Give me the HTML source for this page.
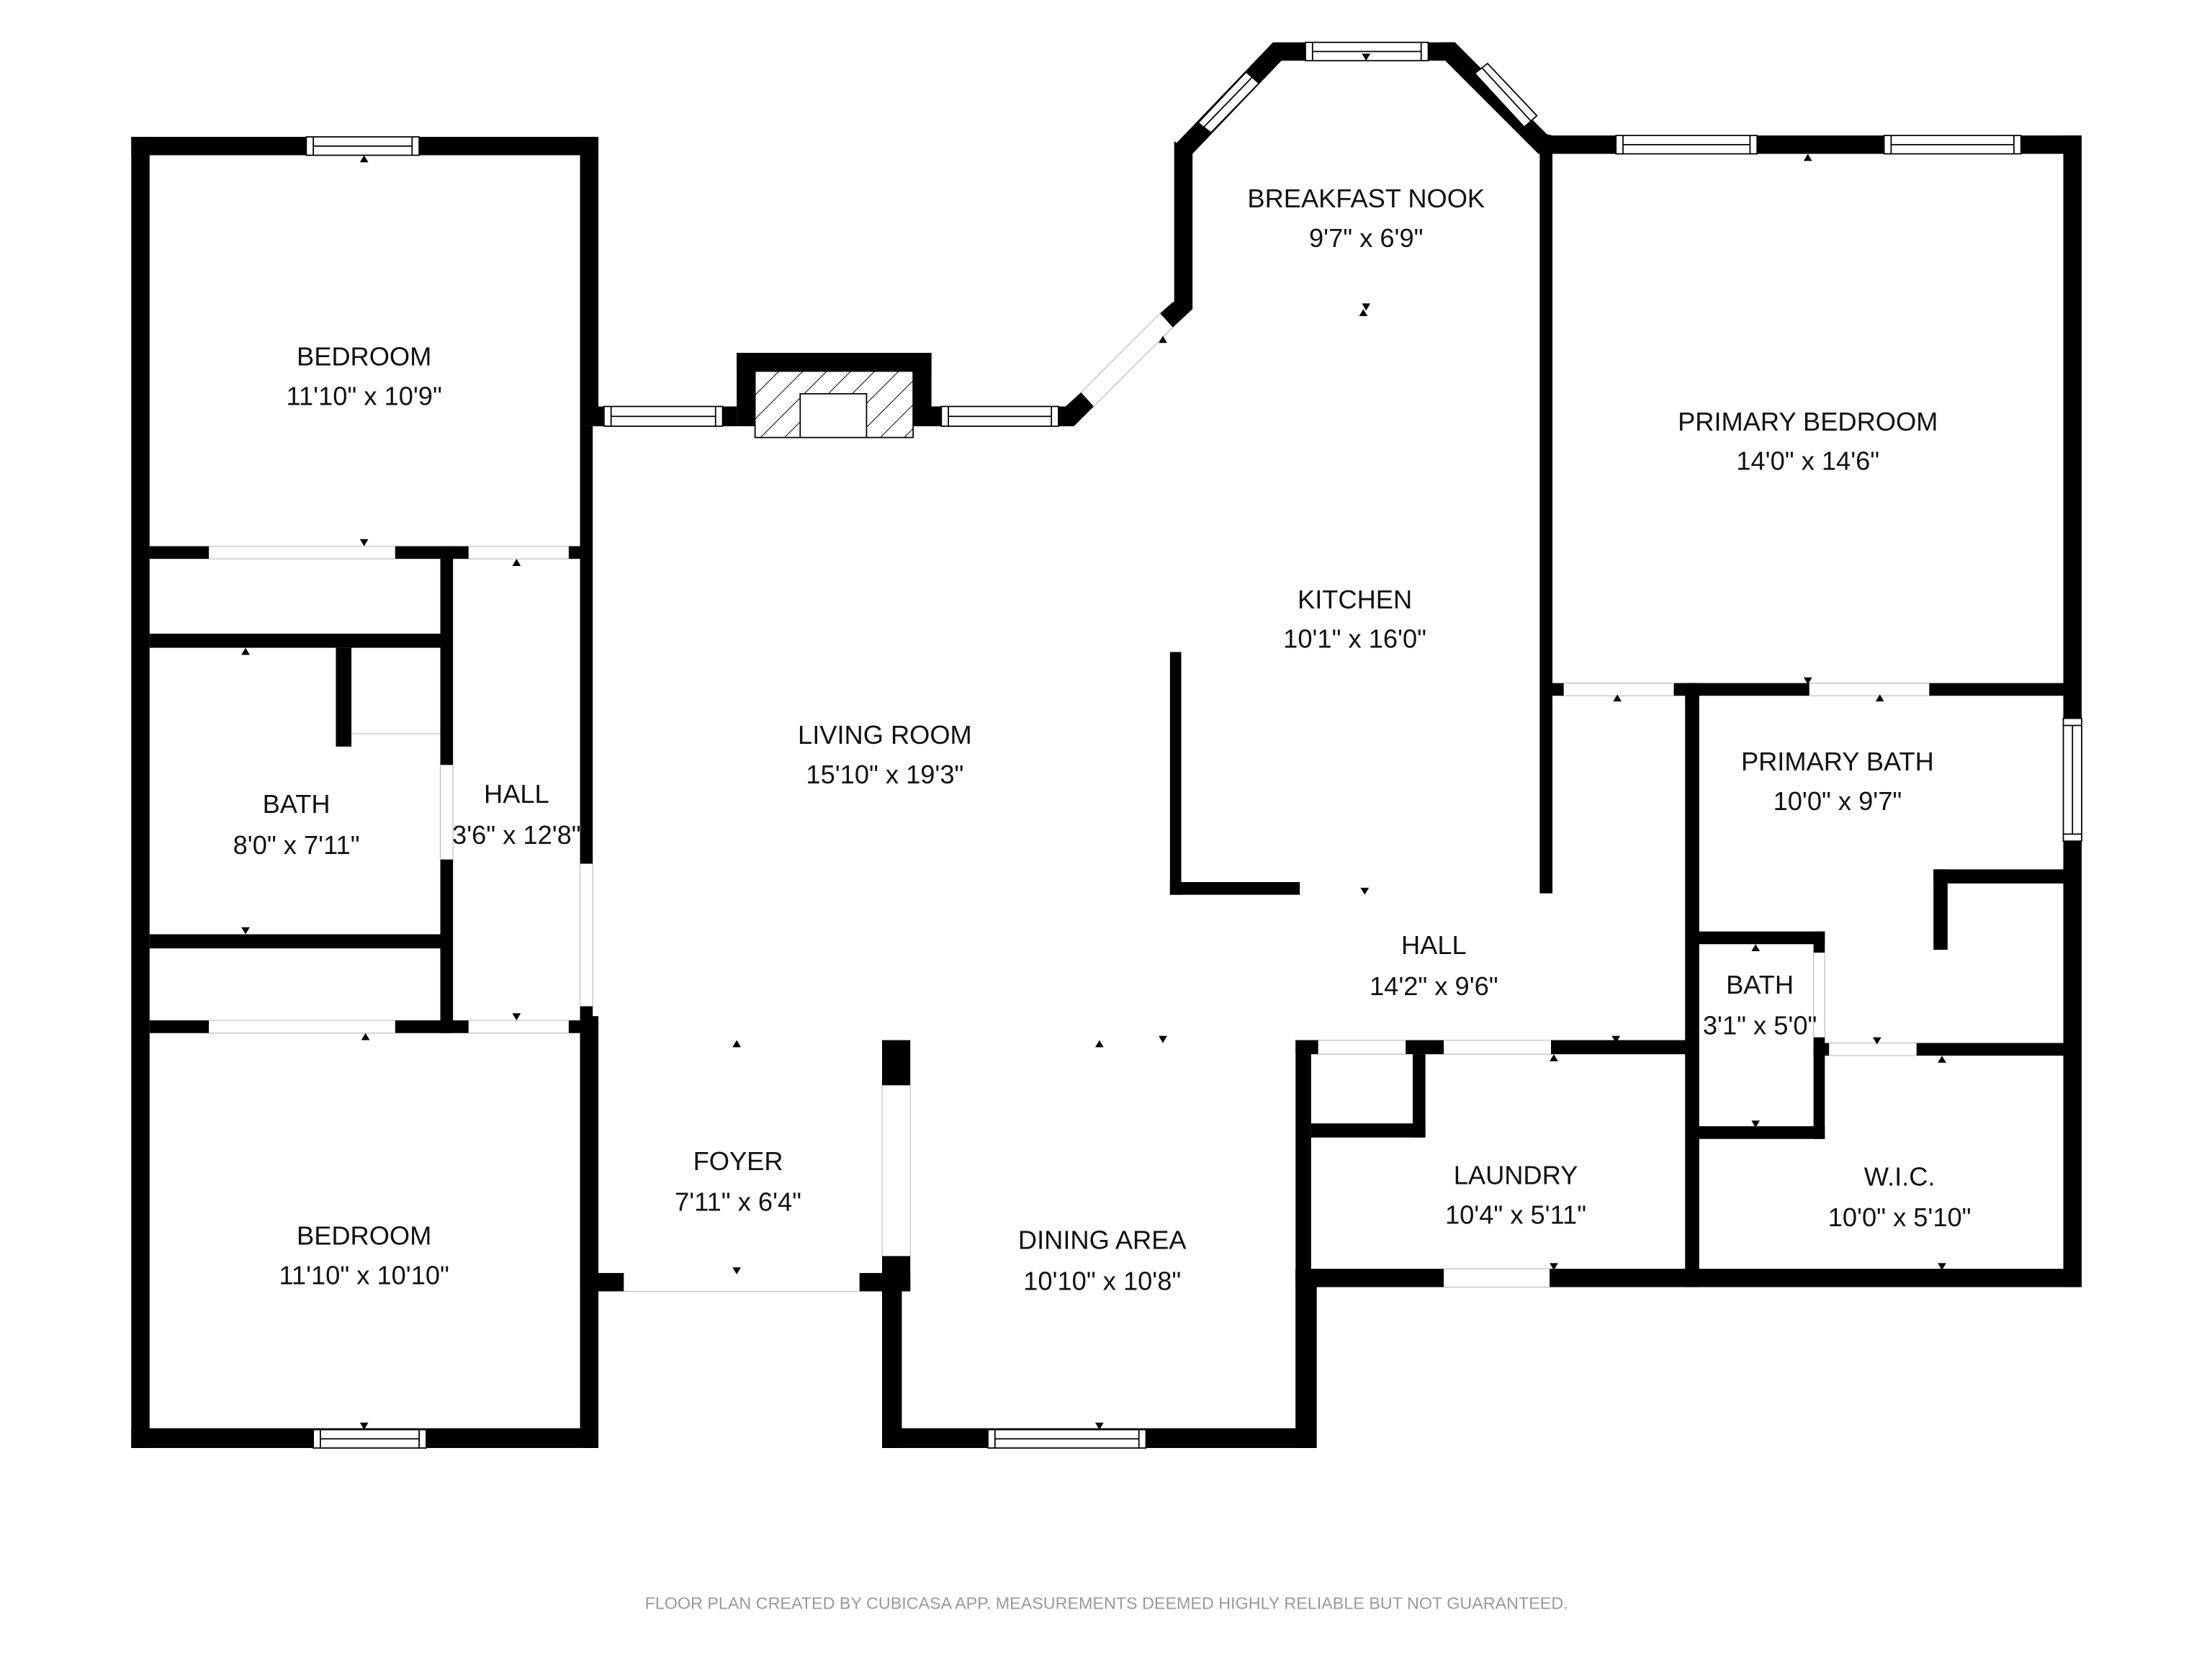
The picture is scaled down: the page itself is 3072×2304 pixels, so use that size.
<!DOCTYPE html>
<html><head><meta charset="utf-8"><style>
html,body{margin:0;padding:0;background:#fff;}
svg{display:block;}
text{font-family:"Liberation Sans",sans-serif;fill:#111;}
</style></head><body>
<svg width="3072" height="2304" viewBox="0 0 1567.35 1175.5" preserveAspectRatio="none" xmlns="http://www.w3.org/2000/svg">
<defs>
<pattern id="hatch" patternUnits="userSpaceOnUse" width="12" height="12" patternTransform="rotate(45)">
<line x1="0" y1="0" x2="0" y2="12" stroke="#000" stroke-width="1"/>
</pattern>
</defs>
<g fill="#000">
<!-- Left column -->
<rect x="93" y="97" width="331" height="13"/>
<rect x="93" y="97" width="13" height="929"/>
<rect x="93" y="1012" width="331" height="14"/>
<rect x="411" y="97" width="13" height="205"/>
<rect x="411" y="302" width="9" height="310"/>
<rect x="411" y="713" width="9" height="190"/>
<rect x="411" y="720" width="13" height="306"/>
<rect x="106" y="387" width="42" height="9"/>
<rect x="280" y="387" width="52" height="9"/>
<rect x="403" y="387" width="10" height="9"/>
<rect x="312" y="387" width="9" height="155"/>
<rect x="312" y="609" width="9" height="123"/>
<rect x="106" y="449" width="210" height="10"/>
<rect x="238" y="459" width="11" height="70"/>
<rect x="106" y="662" width="210" height="10"/>
<rect x="106" y="723" width="42" height="9"/>
<rect x="280" y="723" width="52" height="9"/>
<rect x="403" y="723" width="10" height="9"/>
<!-- living top -->
<rect x="420" y="288" width="102" height="14"/>
<rect x="522" y="250" width="138" height="13"/>
<rect x="522" y="250" width="13" height="52"/>
<rect x="647" y="250" width="13" height="52"/>
<rect x="647" y="288" width="110" height="14"/>
<!-- diagonal living-nook ends -->
<polygon points="750,288 755,288 766,278 775,288 761,302 750,302"/>
<polygon points="822,222 831,214 832,214 832,100 845,109 845,219 831,232"/>
<!-- nook diagonals -->
<polygon points="902,30 908,43 845,109 832,103"/>
<rect x="902" y="30" width="129" height="13"/>
<polygon points="1024,30 1031,30 1096,95 1100,96 1100,109 1090,109 1024,43"/>
<!-- right block -->
<rect x="1090" y="96" width="385" height="13"/>
<rect x="1462" y="96" width="13" height="816"/>
<rect x="1091" y="96" width="9" height="537"/>
<rect x="1100" y="484" width="8" height="9"/>
<rect x="1186" y="484" width="96" height="9"/>
<rect x="1367" y="484" width="95" height="9"/>
<rect x="1194" y="484" width="10" height="428"/>
<rect x="1370" y="616" width="92" height="10"/>
<rect x="1370" y="616" width="10" height="57"/>
<rect x="1203" y="660" width="90" height="9"/>
<rect x="1285" y="660" width="8" height="15"/>
<rect x="1285" y="735" width="8" height="72"/>
<rect x="1203" y="798" width="90" height="9"/>
<rect x="1285" y="739" width="11" height="9"/>
<rect x="1358" y="739" width="104" height="9"/>
<!-- laundry -->
<rect x="918" y="737" width="16" height="10"/>
<rect x="996" y="737" width="27" height="10"/>
<rect x="1099" y="737" width="100" height="10"/>
<rect x="918" y="737" width="11" height="170"/>
<rect x="918" y="899" width="15" height="127"/>
<rect x="1001" y="747" width="9" height="59"/>
<rect x="929" y="796" width="81" height="10"/>
<rect x="918" y="899" width="105" height="13"/>
<rect x="1098" y="899" width="377" height="13"/>
<!-- kitchen island -->
<rect x="829" y="462" width="8" height="172"/>
<rect x="829" y="625" width="92" height="9"/>
<!-- dining/foyer -->
<rect x="625" y="737" width="20" height="32"/>
<rect x="625" y="890" width="20" height="25"/>
<rect x="625" y="900" width="14" height="126"/>
<rect x="625" y="1012" width="307" height="14"/>
<rect x="918" y="900" width="14" height="126"/>
<rect x="411" y="902" width="31" height="13"/>
<rect x="609" y="902" width="36" height="13"/>
</g>
<!-- door openings (thin lines) -->
<g stroke="#bbb" stroke-width="0.6" fill="none">
<line x1="148" y1="387" x2="280" y2="387"/><line x1="148" y1="396" x2="280" y2="396"/>
<line x1="332" y1="387" x2="403" y2="387"/><line x1="332" y1="396" x2="403" y2="396"/>
<line x1="148" y1="723" x2="280" y2="723"/><line x1="148" y1="732" x2="280" y2="732"/>
<line x1="332" y1="723" x2="403" y2="723"/><line x1="332" y1="732" x2="403" y2="732"/>
<line x1="312" y1="542" x2="312" y2="609"/><line x1="321" y1="542" x2="321" y2="609"/>
<line x1="411" y1="612" x2="411" y2="713"/><line x1="420" y1="612" x2="420" y2="713"/>
<line x1="249" y1="520" x2="312" y2="520"/>
<line x1="442" y1="915" x2="609" y2="915"/>
<line x1="625" y1="769" x2="625" y2="890"/><line x1="645" y1="769" x2="645" y2="890"/>
<line x1="766" y1="278" x2="822" y2="222"/><line x1="775" y1="288" x2="831" y2="232"/>
<line x1="1108" y1="484" x2="1186" y2="484"/><line x1="1108" y1="493" x2="1186" y2="493"/>
<line x1="1282" y1="484" x2="1367" y2="484"/><line x1="1282" y1="493" x2="1367" y2="493"/>
<line x1="934" y1="737" x2="996" y2="737"/><line x1="934" y1="747" x2="996" y2="747"/>
<line x1="1023" y1="737" x2="1099" y2="737"/><line x1="1023" y1="747" x2="1099" y2="747"/>
<line x1="1296" y1="739" x2="1358" y2="739"/><line x1="1296" y1="748" x2="1358" y2="748"/>
<line x1="1285" y1="675" x2="1285" y2="735"/><line x1="1293" y1="675" x2="1293" y2="735"/>
<line x1="1023" y1="899" x2="1098" y2="899"/><line x1="1023" y1="912" x2="1098" y2="912"/>
</g>
<!-- windows -->
<g fill="#fff" stroke="#000" stroke-width="0.9">
<rect x="217" y="97" width="80" height="13"/><line x1="222" y1="97" x2="222" y2="110"/><line x1="292" y1="97" x2="292" y2="110"/><line x1="222" y1="103.5" x2="292" y2="103.5"/>
<rect x="222" y="1013" width="80" height="13"/><line x1="227" y1="1013" x2="227" y2="1026"/><line x1="297" y1="1013" x2="297" y2="1026"/><line x1="227" y1="1019.5" x2="297" y2="1019.5"/>
<rect x="428" y="288" width="84" height="14"/><line x1="433" y1="288" x2="433" y2="302"/><line x1="507" y1="288" x2="507" y2="302"/><line x1="433" y1="295" x2="507" y2="295"/>
<rect x="667" y="288" width="83" height="14"/><line x1="672" y1="288" x2="672" y2="302"/><line x1="745" y1="288" x2="745" y2="302"/><line x1="672" y1="295" x2="745" y2="295"/>
<rect x="925" y="30" width="87" height="13"/><line x1="930" y1="30" x2="930" y2="43"/><line x1="1007" y1="30" x2="1007" y2="43"/><line x1="930" y1="36.5" x2="1007" y2="36.5"/>
<rect x="1145" y="96" width="100" height="13"/><line x1="1150" y1="96" x2="1150" y2="109"/><line x1="1240" y1="96" x2="1240" y2="109"/><line x1="1150" y1="102.5" x2="1240" y2="102.5"/>
<rect x="1335" y="96" width="97" height="13"/><line x1="1340" y1="96" x2="1340" y2="109"/><line x1="1427" y1="96" x2="1427" y2="109"/><line x1="1340" y1="102.5" x2="1427" y2="102.5"/>
<rect x="1462" y="509" width="13" height="87"/><line x1="1462" y1="514" x2="1475" y2="514"/><line x1="1462" y1="591" x2="1475" y2="591"/><line x1="1468.5" y1="514" x2="1468.5" y2="591"/>
<rect x="700" y="1013" width="112" height="13"/><line x1="705" y1="1013" x2="705" y2="1026"/><line x1="807" y1="1013" x2="807" y2="1026"/><line x1="705" y1="1019.5" x2="807" y2="1019.5"/>
<polygon points="849,87 883,51 892,59 858,94"/><line x1="853" y1="90" x2="887" y2="55"/>
<polygon points="1045,52 1054,45 1089,82 1080,90"/><line x1="1050" y1="48" x2="1085" y2="86"/>
</g>
<!-- fireplace -->
<rect x="535" y="263" width="112" height="47" fill="url(#hatch)" stroke="#000" stroke-width="0.9"/>
<rect x="567" y="279" width="47" height="31" fill="#fff" stroke="#000" stroke-width="0.9"/>
<!-- markers -->
<g fill="#000">
<polygon points="255,115 261,115 258,110"/><polygon points="255,382 261,382 258,387"/>
<polygon points="363,401 369,401 366,396"/><polygon points="171,464 177,464 174,459"/>
<polygon points="171,657 177,657 174,662"/><polygon points="256,737 262,737 259,732"/>
<polygon points="363,718 369,718 366,723"/><polygon points="255,1008 261,1008 258,1013"/>
<polygon points="519,742 525,742 522,737"/><polygon points="519,898 525,898 522,903"/>
<polygon points="776,742 782,742 779,737"/><polygon points="776,1008 782,1008 779,1013"/>
<polygon points="965,215 971,215 968,220"/><polygon points="963,224 969,224 966,219"/>
<polygon points="965,38 971,38 968,43"/><polygon points="821,243 827,243 824,238"/>
<polygon points="964,629 970,629 967,634"/><polygon points="821,734 827,734 824,739"/>
<polygon points="1278,114 1284,114 1281,109"/><polygon points="1278,480 1284,480 1281,485"/>
<polygon points="1143,497 1149,497 1146,492"/><polygon points="1329,497 1335,497 1332,492"/>
<polygon points="1142,734 1148,734 1145,739"/><polygon points="1098,752 1104,752 1101,747"/>
<polygon points="1241,674 1247,674 1244,669"/><polygon points="1241,794 1247,794 1244,799"/>
<polygon points="1327,735 1333,735 1330,740"/><polygon points="1373,753 1379,753 1376,748"/>
<polygon points="1098,895 1104,895 1101,900"/><polygon points="1373,895 1379,895 1376,900"/>
</g>
<!-- labels -->
<g font-size="18.5" text-anchor="middle">
<text x="258" y="259">BEDROOM</text><text x="258" y="287">11'10" x 10'9"</text>
<text x="210" y="576">BATH</text><text x="210" y="605">8'0" x 7'11"</text>
<text x="366" y="569">HALL</text><text x="366" y="598">3'6" x 12'8"</text>
<text x="258" y="882">BEDROOM</text><text x="258" y="910">11'10" x 10'10"</text>
<text x="627" y="527">LIVING ROOM</text><text x="627" y="555">15'10" x 19'3"</text>
<text x="523" y="829">FOYER</text><text x="523" y="858">7'11" x 6'4"</text>
<text x="781" y="885">DINING AREA</text><text x="781" y="914">10'10" x 10'8"</text>
<text x="968" y="147">BREAKFAST NOOK</text><text x="968" y="175">9'7" x 6'9"</text>
<text x="960" y="431">KITCHEN</text><text x="960" y="459">10'1" x 16'0"</text>
<text x="1016" y="676">HALL</text><text x="1016" y="705">14'2" x 9'6"</text>
<text x="1281" y="305">PRIMARY BEDROOM</text><text x="1281" y="333">14'0" x 14'6"</text>
<text x="1302" y="546">PRIMARY BATH</text><text x="1302" y="574">10'0" x 9'7"</text>
<text x="1247" y="704">BATH</text><text x="1247" y="733">3'1" x 5'0"</text>
<text x="1074" y="839">LAUNDRY</text><text x="1074" y="867">10'4" x 5'11"</text>
<text x="1346" y="840">W.I.C.</text><text x="1346" y="869">10'0" x 5'10"</text>
</g>
<text x="784" y="1140" font-size="11.9" text-anchor="middle" style="fill:#999">FLOOR PLAN CREATED BY CUBICASA APP. MEASUREMENTS DEEMED HIGHLY RELIABLE BUT NOT GUARANTEED.</text>
</svg>
</body></html>
